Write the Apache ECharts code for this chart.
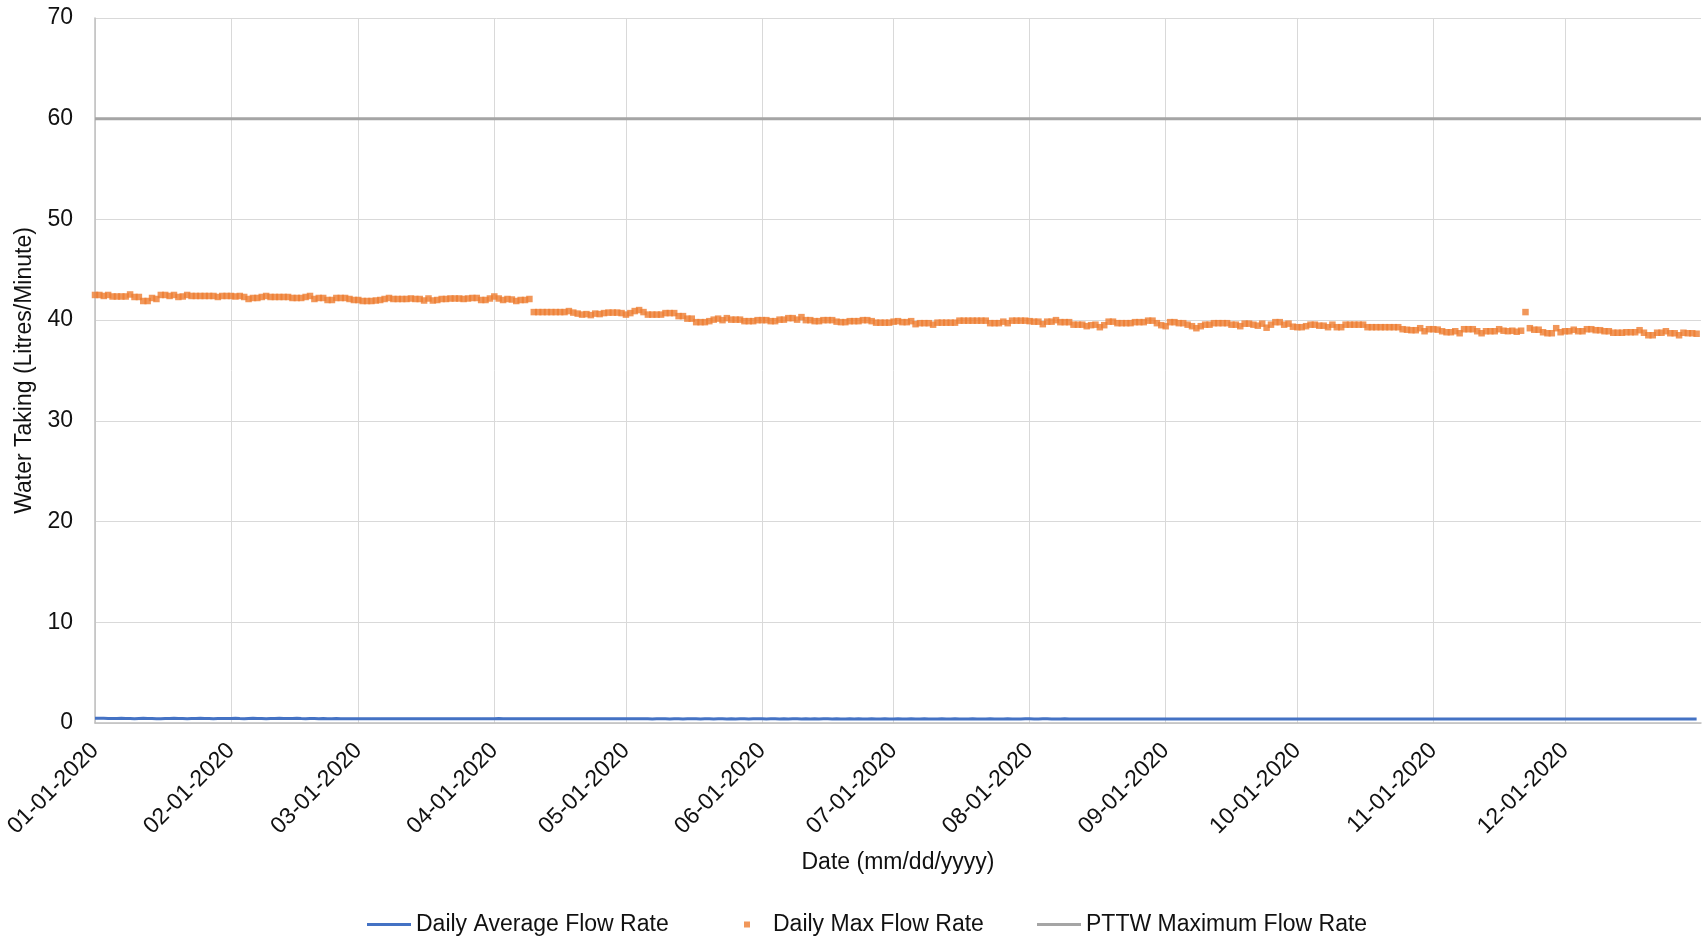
<!DOCTYPE html>
<html>
<head>
<meta charset="utf-8">
<title>Water Taking 2020</title>
<script src="https://cdn.jsdelivr.net/npm/echarts@6/dist/echarts.min.js"></script>
<style>
  html, body { margin: 0; padding: 0; background: #ffffff; }
  #chart { width: 1703px; height: 936px; }
</style>
</head>
<body>
<div id="chart"></div>
<script>
// Daily maximum flow rate (L/min), one array per month of 2020
const maxJan = [42.5,42.5,42.4,42.5,42.35,42.35,42.35,42.35,42.55,42.3,42.3,41.9,41.9,42.2,42.1,42.5,42.5,42.4,42.5,42.3,42.35,42.5,42.4,42.4,42.4,42.4,42.4,42.4,42.3,42.4,42.4];
const maxFeb = [42.4,42.35,42.4,42.3,42.1,42.2,42.2,42.3,42.4,42.3,42.3,42.3,42.3,42.3,42.2,42.2,42.2,42.3,42.4,42.1,42.2,42.2,42.0,42.0,42.2,42.2,42.2,42.1,42.0];
const maxMar = [42.0,41.9,41.9,41.9,41.95,42.0,42.1,42.2,42.1,42.1,42.1,42.1,42.15,42.1,42.1,41.95,42.15,41.95,42.0,42.1,42.1,42.15,42.15,42.15,42.1,42.15,42.2,42.2,42.0,42.0,42.15];
const maxApr = [42.35,42.15,42.0,42.1,42.05,41.9,42.0,42.0,42.1,40.8,40.8,40.8,40.8,40.8,40.8,40.8,40.8,40.9,40.75,40.65,40.55,40.6,40.5,40.65,40.6,40.7,40.75,40.75,40.75,40.7];
const maxMay = [40.55,40.7,40.9,41.0,40.8,40.55,40.55,40.55,40.55,40.7,40.7,40.7,40.4,40.4,40.15,40.15,39.8,39.8,39.8,39.9,40.05,40.15,40.0,40.2,40.05,40.05,40.05,39.9,39.9,39.9,40.0];
const maxJun = [40.0,40.0,39.9,39.9,40.05,40.05,40.2,40.2,40.05,40.3,40.0,40.0,39.9,39.9,40.0,40.0,40.0,39.85,39.8,39.8,39.9,39.9,39.9,40.0,40.0,39.9,39.75,39.75,39.75,39.75];
const maxJul = [39.85,39.9,39.8,39.8,39.9,39.6,39.7,39.7,39.7,39.55,39.75,39.75,39.75,39.75,39.75,39.95,39.95,39.95,39.95,39.95,39.95,39.95,39.7,39.7,39.7,39.85,39.7,39.95,39.95,39.95,39.95];
const maxAug = [39.9,39.85,39.85,39.6,39.85,39.85,40.0,39.8,39.8,39.8,39.55,39.55,39.55,39.4,39.5,39.55,39.3,39.5,39.85,39.85,39.7,39.7,39.7,39.7,39.8,39.8,39.8,39.95,39.95,39.7,39.5];
const maxSep = [39.4,39.8,39.8,39.7,39.7,39.55,39.4,39.2,39.4,39.55,39.55,39.7,39.7,39.7,39.7,39.55,39.55,39.4,39.65,39.65,39.55,39.45,39.65,39.25,39.55,39.8,39.8,39.55,39.65,39.35];
const maxOct = [39.3,39.3,39.4,39.55,39.55,39.45,39.45,39.3,39.55,39.3,39.3,39.55,39.55,39.55,39.55,39.55,39.3,39.3,39.3,39.3,39.3,39.3,39.3,39.3,39.1,39.05,39.0,39.0,39.2,38.9,39.1];
const maxNov = [39.1,39.06,38.9,38.8,38.8,38.9,38.7,39.1,39.1,39.1,38.9,38.7,38.9,38.9,38.9,39.1,38.95,38.9,38.95,38.85,38.95,40.8,39.2,39.05,39.05,38.8,38.7,38.7,39.2,38.8];
const maxDec = [38.9,38.9,39.05,38.9,38.9,39.1,39.1,39.0,39.0,38.9,38.9,38.75,38.75,38.75,38.8,38.8,38.8,39.0,38.75,38.5,38.5,38.75,38.75,38.9,38.7,38.7,38.5,38.75,38.7,38.7,38.65];

// Daily average flow rate (L/min), one array per month of 2020
const avgJan = [0.47,0.46,0.46,0.45,0.44,0.45,0.46,0.45,0.44,0.43,0.45,0.46,0.44,0.45,0.43,0.42,0.44,0.45,0.46,0.45,0.44,0.43,0.44,0.45,0.46,0.45,0.44,0.43,0.44,0.45,0.44];
const avgFeb = [0.45,0.46,0.44,0.43,0.45,0.46,0.45,0.44,0.43,0.44,0.45,0.46,0.45,0.44,0.45,0.46,0.44,0.43,0.45,0.44,0.43,0.44,0.42,0.43,0.44,0.43,0.42,0.43,0.42];
const avgMar = [0.42,0.42,0.41,0.42,0.43,0.42,0.41,0.42,0.42,0.41,0.42,0.41,0.42,0.42,0.41,0.42,0.41,0.42,0.42,0.41,0.41,0.42,0.41,0.42,0.42,0.41,0.42,0.41,0.42,0.43,0.42];
const avgApr = [0.43,0.44,0.43,0.42,0.42,0.42,0.41,0.42,0.41,0.42,0.41,0.41,0.42,0.41,0.41,0.42,0.41,0.41,0.42,0.41,0.41,0.41,0.42,0.41,0.41,0.41,0.42,0.41,0.41,0.41];
const avgMay = [0.41,0.41,0.42,0.41,0.41,0.41,0.40,0.41,0.41,0.41,0.40,0.41,0.41,0.40,0.41,0.41,0.41,0.40,0.41,0.41,0.40,0.41,0.41,0.40,0.41,0.40,0.41,0.41,0.40,0.41,0.41];
const avgJun = [0.41,0.40,0.41,0.41,0.40,0.41,0.40,0.41,0.41,0.40,0.41,0.40,0.41,0.40,0.41,0.41,0.40,0.41,0.40,0.40,0.41,0.40,0.41,0.40,0.40,0.41,0.40,0.40,0.41,0.40];
const avgJul = [0.40,0.41,0.40,0.40,0.41,0.40,0.40,0.41,0.40,0.40,0.40,0.41,0.40,0.40,0.41,0.40,0.40,0.40,0.41,0.40,0.40,0.40,0.41,0.40,0.40,0.40,0.41,0.40,0.40,0.40,0.41];
const avgAug = [0.41,0.40,0.40,0.41,0.41,0.40,0.40,0.40,0.41,0.40,0.40,0.39,0.40,0.40,0.40,0.39,0.40,0.40,0.39,0.40,0.40,0.39,0.40,0.40,0.39,0.40,0.39,0.40,0.40,0.39,0.40];
const avgSep = [0.39,0.40,0.39,0.39,0.40,0.39,0.39,0.40,0.39,0.39,0.39,0.40,0.39,0.39,0.40,0.39,0.39,0.39,0.40,0.39,0.39,0.40,0.39,0.39,0.39,0.40,0.39,0.39,0.39,0.40];
const avgOct = [0.39,0.39,0.40,0.39,0.39,0.39,0.40,0.39,0.39,0.39,0.40,0.39,0.39,0.39,0.40,0.39,0.39,0.39,0.39,0.40,0.39,0.39,0.39,0.40,0.39,0.39,0.39,0.39,0.40,0.39,0.39];
const avgNov = [0.39,0.39,0.40,0.39,0.39,0.39,0.39,0.40,0.39,0.39,0.39,0.39,0.40,0.39,0.39,0.39,0.39,0.40,0.39,0.39,0.39,0.39,0.40,0.39,0.39,0.39,0.39,0.40,0.39,0.39];
const avgDec = [0.39,0.39,0.39,0.40,0.39,0.39,0.39,0.39,0.40,0.39,0.39,0.39,0.39,0.39,0.40,0.39,0.39,0.39,0.39,0.39,0.40,0.39,0.39,0.39,0.39,0.39,0.40,0.39,0.39,0.39,0.39];

// Permit (PTTW) maximum flow rate, L/min
const PTTW_LIMIT = 60;

// Date range of the x axis: every day of 2020 plus 01-01-2021 as the right edge
const START_DATE = Date.UTC(2020, 0, 1);
const DAY_COUNT = 367;

const seriesNames = ['Daily Average Flow Rate', 'Daily Max Flow Rate', 'PTTW Maximum Flow Rate'];

const maxFlow = [].concat(maxJan, maxFeb, maxMar, maxApr, maxMay, maxJun, maxJul, maxAug, maxSep, maxOct, maxNov, maxDec);
const avgFlow = [].concat(avgJan, avgFeb, avgMar, avgApr, avgMay, avgJun, avgJul, avgAug, avgSep, avgOct, avgNov, avgDec);

const pad = n => (n < 10 ? '0' : '') + n;
const dates = [];
for (let i = 0; i < DAY_COUNT; i++) {
  const d = new Date(START_DATE + i * 86400000);
  dates.push(pad(d.getUTCMonth() + 1) + '-' + pad(d.getUTCDate()) + '-' + d.getUTCFullYear());
}
const lastDay = dates.length - 1;
// first day of each month within 2020
const isMonthStart = (idx, val) => val.slice(3, 5) === '01' && idx < lastDay;

const FONT = '"Liberation Sans", Arial, sans-serif';
const TEXT = '#111111';

const chart = echarts.init(document.getElementById('chart'), null, { renderer: 'canvas' });

chart.setOption({
  animation: false,
  backgroundColor: '#ffffff',
  textStyle: { fontFamily: FONT },
  grid: { left: 95, right: 2, top: 18, bottom: 213, containLabel: false },
  legend: [
    {
      data: [{ name: seriesNames[0], icon: 'rect' }],
      left: 362, top: 908, itemWidth: 44, itemHeight: 3,
      textStyle: { fontSize: 23, color: TEXT, fontFamily: FONT }
    },
    {
      data: [{ name: seriesNames[1], icon: 'rect' }],
      left: 739, top: 908, itemWidth: 6, itemHeight: 6,
      textStyle: { fontSize: 23, color: TEXT, fontFamily: FONT, padding: [0, 0, 0, 18] }
    },
    {
      data: [{ name: seriesNames[2], icon: 'rect' }],
      left: 1032, top: 908, itemWidth: 44, itemHeight: 3,
      textStyle: { fontSize: 23, color: TEXT, fontFamily: FONT }
    }
  ],
  xAxis: {
    type: 'category',
    data: dates,
    boundaryGap: false,
    name: 'Date (mm/dd/yyyy)',
    nameLocation: 'middle',
    nameGap: 128,
    nameTextStyle: { fontSize: 23, color: TEXT, fontFamily: FONT },
    axisLine: { show: true, lineStyle: { color: '#BFBFBF', width: 1.5 } },
    axisTick: { show: false },
    axisLabel: {
      interval: isMonthStart,
      rotate: 45,
      margin: 24,
      fontSize: 23,
      color: TEXT,
      fontFamily: FONT
    },
    splitLine: {
      show: true,
      interval: isMonthStart,
      lineStyle: { color: '#D9D9D9', width: 1 }
    }
  },
  yAxis: {
    type: 'value',
    min: 0,
    max: 70,
    interval: 10,
    name: 'Water Taking (Litres/Minute)',
    nameLocation: 'middle',
    nameRotate: 90,
    nameGap: 50,
    nameTextStyle: { fontSize: 23, color: TEXT, fontFamily: FONT },
    axisLine: { show: true, lineStyle: { color: '#BFBFBF', width: 1.5 } },
    axisTick: { show: false },
    axisLabel: { fontSize: 23, color: TEXT, margin: 22, fontFamily: FONT },
    splitLine: { show: true, lineStyle: { color: '#D9D9D9', width: 1 } }
  },
  series: [
    {
      name: seriesNames[0],
      type: 'line',
      data: avgFlow,
      showSymbol: false,
      symbol: 'none',
      color: '#4472C4',
      lineStyle: { color: '#4472C4', width: 3 },
      z: 3
    },
    {
      name: seriesNames[1],
      type: 'scatter',
      data: maxFlow,
      symbol: 'rect',
      symbolSize: 6.5,
      color: '#ED7D31',
      itemStyle: { color: '#ED7D31' },
      z: 4
    },
    {
      name: seriesNames[2],
      type: 'line',
      data: [[dates[0], PTTW_LIMIT], [dates[lastDay], PTTW_LIMIT]],
      showSymbol: false,
      symbol: 'none',
      color: '#A5A5A5',
      lineStyle: { color: '#A5A5A5', width: 3 },
      z: 2
    }
  ]
});
</script>
</body>
</html>
